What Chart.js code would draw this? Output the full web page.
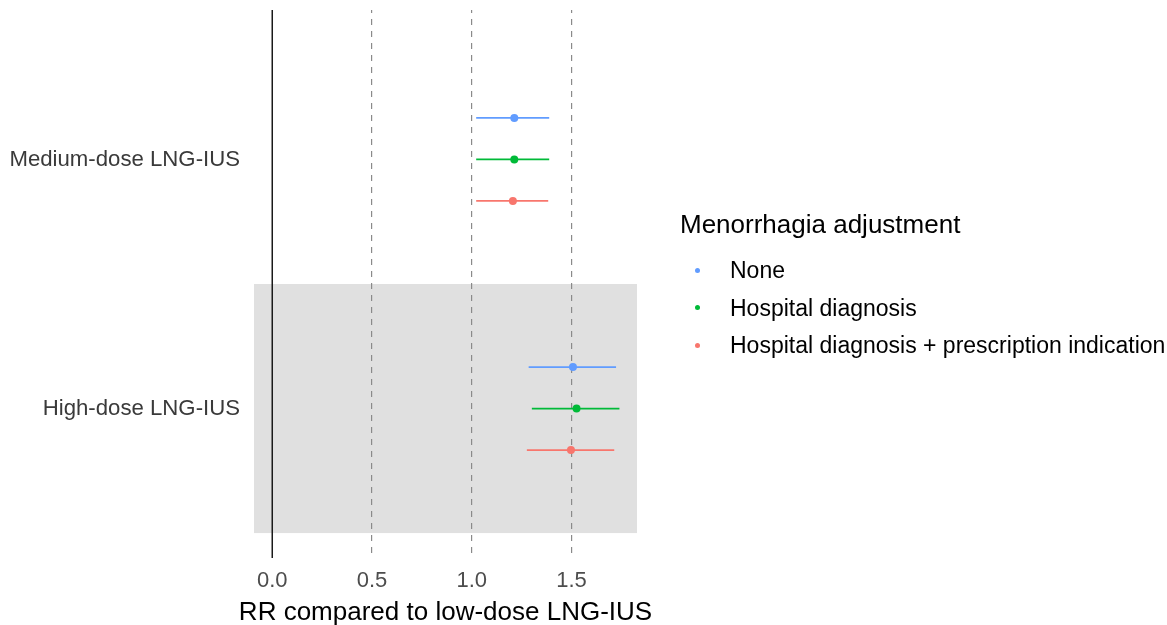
<!DOCTYPE html>
<html><head><meta charset="utf-8">
<script src="https://cdn.jsdelivr.net/npm/chart.js@4.4.1/dist/chart.umd.min.js"></script>
<style>
html,body{margin:0;padding:0;background:#fff;}
#wrap{position:relative;width:1167px;height:625px;overflow:hidden;font-family:'Liberation Sans',Arial,sans-serif;}
#c{position:absolute;left:0;top:0;}
.lg{position:absolute;white-space:nowrap;color:#000;}
.lgt{font-size:26px;line-height:30px;}
.lgi{font-size:23px;line-height:26px;}
.dot{position:absolute;width:5px;height:5px;border-radius:50%;}
</style></head><body>
<div id="wrap"><canvas id="c" width="1167" height="625"></canvas><div id="legend"></div></div>
<script>
// ---- data ----
const categories = ['Medium-dose LNG-IUS', 'High-dose LNG-IUS'];
const seriesNames = ['None', 'Hospital diagnosis', 'Hospital diagnosis + prescription indication'];
const rrNone = [1.213, 1.507];
const lowNone = [1.022, 1.285];
const highNone = [1.388, 1.723];
const rrHosp = [1.213, 1.525];
const lowHosp = [1.022, 1.301];
const highHosp = [1.388, 1.740];
const rrHospRx = [1.206, 1.497];
const lowHospRx = [1.022, 1.276];
const highHospRx = [1.383, 1.714];
const xTicks = [0, 0.5, 1.0, 1.5];
const shadedCategory = 'High-dose LNG-IUS';
const titleX = 'RR compared to low-dose LNG-IUS';
const legendTitle = 'Menorrhagia adjustment';

// ---- styling / layout ----
const colors = ['#619CFF', '#00BA38', '#F8766D'];
const dodge = [-1/6, 0, 1/6];
const FONT = "'Liberation Sans', Arial, sans-serif";
const X_MIN = -0.0915, X_MAX = 1.828, Y_MIN = 0.4, Y_MAX = 2.6;

const seriesRR = [rrNone, rrHosp, rrHospRx];
const seriesLo = [lowNone, lowHosp, lowHospRx];
const seriesHi = [highNone, highHosp, highHospRx];

const datasets = [];
// zero reference line
datasets.push({type:'line', data:[{x:0,y:Y_MIN},{x:0,y:Y_MAX}], borderColor:'#1a1a1a', borderWidth:1.5, pointRadius:0, order:5});
// error bars
seriesNames.forEach((s, si) => {
  categories.forEach((c, ci) => {
    const yy = ci + 1 + dodge[si];
    datasets.push({type:'line', label:'ci', data:[{x:seriesLo[si][ci], y:yy},{x:seriesHi[si][ci], y:yy}],
      borderColor:colors[si], borderWidth:1.8, pointRadius:0, order:3});
  });
});
// points
seriesNames.forEach((s, si) => {
  datasets.push({type:'scatter', label:s, data:categories.map((c, ci) => ({x:seriesRR[si][ci], y:ci + 1 + dodge[si]})),
    backgroundColor:colors[si], borderColor:colors[si], pointRadius:4, pointBorderWidth:0, order:1});
});

const bandPlugin = {
  id:'band',
  beforeDraw(chart) {
    const {ctx, chartArea, scales:{y}} = chart;
    const ci = categories.indexOf(shadedCategory) + 1;
    const y1 = y.getPixelForValue(ci - 0.5), y2 = y.getPixelForValue(ci + 0.5);
    ctx.save();
    ctx.fillStyle = '#E0E0E0';
    ctx.fillRect(chartArea.left, Math.min(y1,y2), chartArea.right - chartArea.left, Math.abs(y2 - y1));
    ctx.restore();
  },
  afterDraw(chart) {
    const {ctx, chartArea} = chart;
    ctx.save();
    ctx.font = '26px ' + FONT;
    ctx.fillStyle = '#000';
    ctx.textAlign = 'center';
    ctx.textBaseline = 'alphabetic';
    ctx.fillText(titleX, (chartArea.left + chartArea.right) / 2, 619.5);
    ctx.restore();
  }
};

new Chart(document.getElementById('c'), {
  data:{datasets},
  plugins:[bandPlugin],
  options:{
    responsive:false, animation:false,
    layout:{padding:{top:10, right:530, left:0, bottom:0}},
    plugins:{legend:{display:false}, tooltip:{enabled:false}},
    scales:{
      x:{type:'linear', min:X_MIN, max:X_MAX,
        afterBuildTicks(s){ s.ticks = xTicks.map(v => ({value:v})); },
        afterFit(s){ s.height = 67; s.paddingLeft = 0; s.paddingRight = 0; },
        ticks:{callback:v => Number(v).toFixed(1), color:'#4D4D4D', font:{family:FONT, size:22}, padding:10, maxRotation:0, autoSkip:false},
        grid:{drawTicks:false, color:ctx => (ctx.tick && ctx.tick.value === 0) ? 'rgba(0,0,0,0)' : '#8a8a8a', lineWidth:1.2},
        border:{display:false, dash:[6,6], dashOffset:3},
        title:{display:false}
      },
      y:{type:'linear', reverse:true, min:Y_MIN, max:Y_MAX,
        afterBuildTicks(s){ s.ticks = categories.map((c,i) => ({value:i+1})); },
        afterFit(s){ s.width = 254; s.paddingTop = 0; s.paddingBottom = 0; },
        ticks:{callback:v => categories[Math.round(v)-1] || '', color:'#3a3a3a', font:{family:FONT, size:22.2}, padding:14, autoSkip:false},
        grid:{display:false, drawTicks:false},
        border:{display:false}
      }
    }
  }
});

// legend (HTML text)
const lg = document.getElementById('legend');
const t = document.createElement('div');
t.className = 'lg lgt'; t.style.left = '680px'; t.style.top = '209px'; t.textContent = legendTitle;
lg.appendChild(t);
seriesNames.forEach((s, i) => {
  const cy = 270 + i * 37.5;
  const d = document.createElement('div');
  d.className = 'dot'; d.style.background = colors[i]; d.style.left = (697 - 2.5) + 'px'; d.style.top = (cy - 2.5) + 'px';
  lg.appendChild(d);
  const e = document.createElement('div');
  e.className = 'lg lgi'; e.style.left = '730px'; e.style.top = (cy - 13) + 'px'; e.textContent = s;
  lg.appendChild(e);
});
</script>
</body></html>
